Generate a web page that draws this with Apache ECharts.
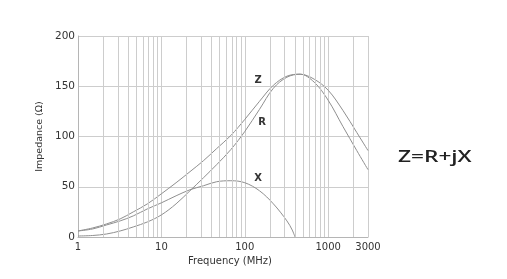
<!DOCTYPE html>
<html>
<head>
<meta charset="utf-8">
<script src="https://cdn.jsdelivr.net/npm/echarts@6/dist/echarts.min.js"></script>
<style>html,body{margin:0;padding:0;background:#fff}#c{width:507px;height:279px}</style>
</head>
<body>
<div id="c"></div>
<script>
const freq  = [1, 1.5, 2.2, 3.2, 4.6, 6.8, 10, 15, 22, 32, 46, 68, 100, 150, 220, 320, 460, 680, 1000, 1500, 2200, 3000];
const valZ  = [6, 9, 13, 18, 25, 33, 43, 54, 65, 76, 88, 101, 117, 135, 151, 160, 162, 157, 146, 126, 104, 86];
const valR  = [1, 1.5, 3, 6, 10, 15, 22, 33, 46, 59, 72, 87, 105, 127, 148, 159, 162, 154, 136, 110, 86, 67];
const freqX = [1, 1.5, 2.2, 3.2, 4.6, 6.8, 10, 15, 22, 32, 46, 68, 100, 150, 220, 320, 370, 400];
const valX  = [6, 8, 12, 16, 21, 28, 34, 41, 47, 51, 55, 56, 54, 46, 33, 16, 7, 0];
const minorGrid = [2,3,4,5,6,7,8,9,20,30,40,50,60,70,80,90,200,300,400,500,600,700,800,900,2000];
const curveLabels = [
  {name: 'Z', f: 144, v: 156},
  {name: 'R', f: 161, v: 114},
  {name: 'X', f: 144, v: 58}
];

const pairs = (fs, vs) => fs.map((f, i) => [f, vs[i]]);
const gridColor = '#cdcdcd';
const curveColor = '#8f8f8f';
const font = 'DejaVu Sans';

const chart = echarts.init(document.getElementById('c'), null, {renderer: 'canvas'});
chart.setOption({
  animation: false,
  backgroundColor: '#fff',
  grid: {left: 78, right: 139, top: 36, bottom: 42, containLabel: false},
  xAxis: {
    type: 'log', logBase: 10, min: 1, max: 3000,
    name: 'Frequency (MHz)', nameLocation: 'middle', nameGap: 18,
    nameTextStyle: {fontFamily: font, fontSize: 10, color: '#333', padding: [0, 0, 0, 14]},
    axisLine: {lineStyle: {color: '#b5b5b5'}},
    axisTick: {show: false},
    axisLabel: {fontFamily: font, fontSize: 10, color: '#333', margin: 5, formatter: v => String(Math.round(v))},
    splitLine: {show: true, lineStyle: {color: gridColor, width: 1}}
  },
  yAxis: {
    type: 'value', min: 0, max: 200, interval: 50,
    name: 'Impedance (Ω)', nameLocation: 'middle', nameGap: 30, nameRotate: 90,
    nameTextStyle: {fontFamily: font, fontSize: 9.5, color: '#333'},
    axisLine: {show: true, lineStyle: {color: '#b5b5b5'}},
    axisTick: {show: false},
    axisLabel: {fontFamily: font, fontSize: 10.5, color: '#333', margin: 3},
    splitLine: {show: true, lineStyle: {color: gridColor, width: 1}}
  },
  graphic: [{
    type: 'text', x: 398, y: 149, scaleX: 1.33,
    style: {text: 'Z=R+jX', font: '600 17px "Open Sans"', fill: '#222'}
  }],
  series: [
    {
      name: 'Z', type: 'line', smooth: 0.35, symbol: 'none',
      data: pairs(freq, valZ),
      lineStyle: {color: curveColor, width: 1},
      markLine: {
        silent: true, symbol: 'none', label: {show: false},
        lineStyle: {color: gridColor, width: 1, type: 'solid'},
        data: minorGrid.map(f => ({xAxis: f}))
      },
      markPoint: {
        symbol: 'circle', symbolSize: 1, itemStyle: {color: 'rgba(0,0,0,0)'},
        label: {show: true, position: 'inside', fontFamily: font, fontSize: 10, fontWeight: 'bold', color: '#333', formatter: p => p.name},
        data: curveLabels.map(l => ({name: l.name, coord: [l.f, l.v]}))
      },
      z: 3
    },
    {
      name: 'R', type: 'line', smooth: 0.35, symbol: 'none',
      data: pairs(freq, valR),
      lineStyle: {color: curveColor, width: 1}, z: 3
    },
    {
      name: 'X', type: 'line', smooth: 0.35, symbol: 'none',
      data: pairs(freqX, valX),
      lineStyle: {color: curveColor, width: 1}, z: 3
    }
  ]
});
</script>
</body>
</html>
